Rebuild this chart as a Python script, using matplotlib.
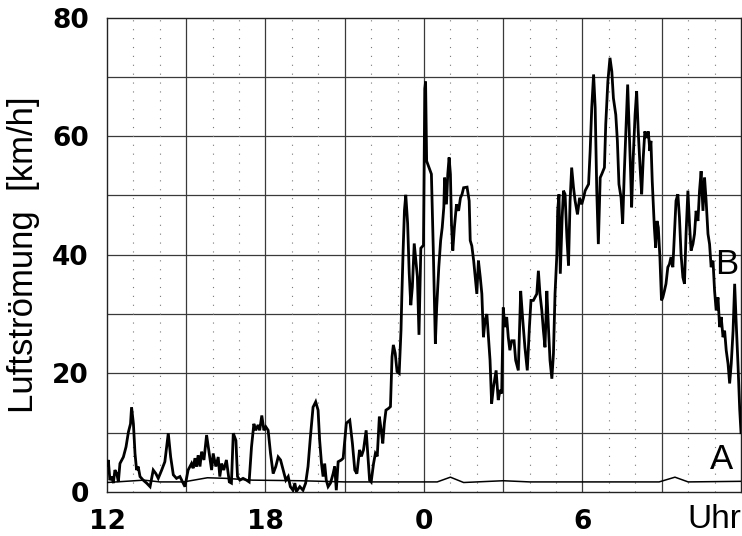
import matplotlib
matplotlib.use("Agg")
import matplotlib.pyplot as plt

# ---- data (hours since midnight of day 1; 24 = 0 Uhr next day) ----
b_time = [12.0, 12.05, 12.11, 12.18, 12.24, 12.30, 12.37, 12.43, 12.49, 12.62, 12.72, 12.81, 12.89, 12.93,
          13.00, 13.06, 13.12, 13.18, 13.25, 13.37, 13.50, 13.63, 13.75, 13.85, 13.94, 14.07, 14.19, 14.32,
          14.41, 14.51, 14.63, 14.76, 14.86, 14.95, 15.07, 15.20, 15.26, 15.33, 15.39, 15.45, 15.52, 15.58,
          15.67, 15.77, 15.87, 15.96, 16.02, 16.12, 16.21, 16.27, 16.34, 16.42, 16.52, 16.63, 16.71, 16.78,
          16.88, 16.94, 17.03, 17.15, 17.28, 17.38, 17.47, 17.56, 17.63, 17.72, 17.78, 17.86, 17.94, 18.01,
          18.10, 18.19, 18.29, 18.39, 18.48, 18.57, 18.67, 18.77, 18.86, 18.94, 19.04, 19.11, 19.17, 19.30,
          19.42, 19.52, 19.61, 19.70, 19.80, 19.90, 19.99, 20.05, 20.12, 20.18, 20.24, 20.30, 20.37, 20.46,
          20.56, 20.62, 20.68, 20.75, 20.87, 20.94,
          21.06, 21.19, 21.29, 21.38, 21.46, 21.56, 21.63, 21.71, 21.81, 21.88, 21.94, 22.00, 22.09, 22.16,
          22.23, 22.31, 22.38, 22.44, 22.50, 22.56, 22.66, 22.73, 22.79, 22.84, 22.91, 22.98, 23.06, 23.13,
          23.16, 23.21, 23.26, 23.31, 23.38, 23.44, 23.50, 23.56, 23.63, 23.69, 23.75, 23.81, 23.88, 23.98,
          24.03, 24.06, 24.10, 24.19, 24.28, 24.35, 24.43, 24.48, 24.56, 24.63, 24.69, 24.75, 24.78, 24.85,
          24.90, 24.95, 25.00, 25.04, 25.09, 25.15, 25.23, 25.31, 25.38, 25.44, 25.50, 25.63, 25.71, 25.75,
          25.81, 25.88, 25.94, 26.00, 26.06, 26.13, 26.19, 26.25, 26.31, 26.38, 26.44, 26.50, 26.56, 26.63,
          26.73, 26.81, 26.88, 26.94,
          27.00, 27.06, 27.13, 27.19, 27.25, 27.32, 27.41, 27.47, 27.57, 27.66, 27.73, 27.82, 27.91, 27.99,
          28.05, 28.14, 28.20, 28.27, 28.33, 28.39, 28.46, 28.52, 28.58, 28.65, 28.71, 28.77, 28.84, 28.90,
          28.96, 29.03, 29.06, 29.11, 29.16, 29.23, 29.28, 29.34, 29.41, 29.47, 29.53, 29.59, 29.66, 29.72,
          29.81, 29.89, 29.97,
          30.04, 30.10, 30.16, 30.23, 30.29, 30.35, 30.42, 30.48, 30.54, 30.60, 30.67, 30.73, 30.83, 30.88,
          30.96, 31.04, 31.11, 31.17, 31.26, 31.32, 31.38, 31.46, 31.52, 31.58, 31.65, 31.71, 31.76, 31.82,
          31.86, 31.92, 31.99, 32.05, 32.11, 32.18, 32.24, 32.30, 32.36, 32.43, 32.49, 32.55, 32.59, 32.64,
          32.72, 32.77, 32.82, 32.87, 32.93, 32.99,
          33.04, 33.10, 33.16, 33.23, 33.29, 33.35, 33.42, 33.48, 33.54, 33.61, 33.67, 33.73, 33.80, 33.86,
          33.92, 33.99, 34.05, 34.11, 34.18, 34.24, 34.30, 34.37, 34.43, 34.49, 34.56, 34.62, 34.68, 34.75,
          34.81, 34.87, 34.94, 35.00, 35.06, 35.13, 35.19, 35.25, 35.32, 35.38, 35.44, 35.51, 35.57, 35.63,
          35.70, 35.76, 35.82, 35.89, 35.95, 36.0]
b_speed = [4.5, 5.4, 2.0, 2.6, 1.5, 3.7, 3.1, 1.7, 4.8, 5.9, 7.6, 10.1, 11.5, 14.3,
           11.5, 6.5, 3.7, 4.3, 2.6, 2.0, 1.5, 0.9, 3.7, 3.1, 2.3, 3.7, 5.1, 9.9,
           5.9, 2.9, 2.3, 2.6, 1.7, 0.9, 3.7, 4.8, 4.0, 5.7, 4.3, 6.2, 4.3, 6.8,
           5.4, 9.6, 6.5, 3.7, 6.5, 4.3, 5.9, 2.6, 4.8, 3.7, 5.4, 1.7, 1.5, 9.9,
           8.7, 2.6, 2.0, 2.3, 2.0, 1.7, 7.6, 11.5, 10.4, 11.3, 10.4, 12.9, 10.4, 11.0,
           10.4, 6.5, 3.1, 4.3, 5.9, 5.4, 3.7, 2.0, 2.6, 0.9, 0.3, 1.5, 0.1, 0.9,
           0.3, 1.5, 4.3, 9.3, 14.3, 15.2, 13.8, 8.7, 4.8, 2.6, 4.8, 2.0, 0.9, 1.5,
           3.1, 4.3, 0.3, 5.1, 5.4, 5.7,
           11.6, 12.1, 8.2, 3.7, 3.1, 7.1, 6.0, 7.1, 10.4, 6.0, 2.0, 1.7, 4.8, 6.5,
           6.0, 12.7, 10.4, 8.2, 11.6, 13.8, 14.1, 14.4, 22.8, 24.8, 23.4, 20.3, 20.0, 27.3,
           32.9, 40.8, 47.5, 50.1, 45.3, 36.9, 31.5, 34.6, 41.9, 39.1, 36.3, 26.5, 41.1, 41.6,
           68.0, 69.2, 55.8, 54.7, 53.6, 41.2, 25.0, 31.1, 37.9, 42.4, 44.6, 48.0, 53.0, 48.5,
           53.6, 56.4, 53.6, 45.2, 40.7, 44.6, 48.5, 47.4, 49.6, 50.2, 51.3, 51.4, 49.1, 42.4,
           41.5, 39.0, 36.2, 33.4, 39.0, 36.2, 33.4, 26.1, 28.9, 30.0, 26.1, 22.2, 14.9, 17.7,
           20.5, 15.5, 17.2, 16.6,
           31.1, 27.8, 29.5, 26.1, 23.9, 25.5, 25.5, 22.2, 20.5, 33.9, 29.5, 24.4, 20.5, 27.8,
           32.3, 32.3, 32.8, 33.4, 37.3, 33.4, 30.6, 27.2, 24.4, 33.9, 27.8, 22.2, 19.1, 23.3,
           33.4, 40.1, 47.4, 50.2, 36.8, 46.3, 50.8, 50.2, 42.9, 38.2, 49.1, 54.7, 51.3, 49.1,
           46.8, 49.6, 48.5,
           49.6, 50.8, 51.3, 51.9, 57.5, 64.8, 70.4, 64.8, 50.8, 41.8, 53.0, 53.6, 54.7, 62.0,
           69.2, 73.2, 70.9, 66.4, 63.6, 59.2, 51.9, 49.6, 45.2, 53.6, 62.0, 68.7, 62.0, 54.1,
           48.0, 56.4, 63.6, 67.6, 60.8, 54.7, 50.2, 56.4, 60.8, 59.7, 60.8, 57.5, 59.2, 52.4,
           44.6, 41.2, 45.7, 44.6, 39.6, 32.3,
           32.8, 33.9, 35.1, 37.9, 38.4, 39.6, 37.9, 43.5, 49.1, 50.2, 46.3, 40.1, 36.2, 35.1,
           43.5, 50.8, 45.2, 40.7, 41.8, 43.5, 47.4, 45.7, 50.8, 54.1, 47.4, 53.0, 49.1, 43.5,
           41.8, 37.9, 39.0, 33.9, 30.6, 32.8, 27.8, 29.5, 26.1, 27.2, 23.9, 21.6, 18.3, 21.6,
           27.2, 35.1, 28.3, 21.1, 14.0, 10.0]

a_time = [12.0, 13.4, 14.0, 14.9, 15.8, 16.5, 17.5, 19.3, 21.0, 24.5, 25.0, 25.5, 27.0, 28.0,
          32.9, 33.5, 34.0, 36.0]
a_speed = [1.6, 2.0, 1.7, 1.7, 2.4, 2.3, 2.0, 1.9, 1.7, 1.7, 2.5, 1.6, 1.9, 1.7,
           1.7, 2.5, 1.7, 1.8]

x_ticks = [12, 18, 24, 30]
x_labels = ["12", "18", "0", "6"]
y_ticks = [0, 20, 40, 60, 80]
y_labels = ["0", "20", "40", "60", "80"]

# ---- figure ----
fig = plt.figure(figsize=(7.42, 5.36), dpi=100)
ax = fig.add_axes([107 / 742, 44 / 536, 634 / 742, 474.5 / 536])
ax.set_xlim(12, 36)
ax.set_ylim(0, 80)

# grid: solid every 10 km/h and every 3 h, dotted every hour
for y in range(10, 80, 10):
    ax.axhline(y, color="#3a3a3a", lw=0.9, zorder=1)
for h in range(13, 36):
    if (h - 12) % 3 == 0:
        ax.axvline(h, color="#3a3a3a", lw=0.9, zorder=1)
    else:
        ax.axvline(h, color="#777777", lw=0.8, ls=(0, (1, 7)), zorder=1)

ax.plot(a_time, a_speed, color="black", lw=1.1, zorder=3)
ax.plot(b_time, b_speed, color="black", lw=2.0, zorder=4, solid_joinstyle="miter")

for s in ax.spines.values():
    s.set_color("#222222")
    s.set_linewidth(1.0)

ax.set_xticks(x_ticks)
ax.set_xticklabels(x_labels)
ax.set_yticks(y_ticks)
ax.set_yticklabels(y_labels)
ax.tick_params(axis="both", length=0)
ax.tick_params(axis="x", pad=12)
ax.tick_params(axis="y", pad=13)
for lab in ax.get_xticklabels() + ax.get_yticklabels():
    lab.set_fontfamily("DejaVu Sans")
    lab.set_fontweight("bold")
    lab.set_fontsize(19)

ax.set_ylabel("Luftströmung  [km/h]", fontsize=25, family="Liberation Sans", labelpad=9)

ax.text(36, -6.0, "Uhr", fontsize=24, family="Liberation Sans", ha="right", va="baseline",
        transform=ax.transData, clip_on=False)
ax.text(35.44, 38.3, "B", fontsize=25, family="Liberation Sans", ha="center", va="center", zorder=5)
ax.text(35.27, 5.4, "A", fontsize=25, family="Liberation Sans", ha="center", va="center", zorder=5)

fig.savefig("out.png", dpi=100)
